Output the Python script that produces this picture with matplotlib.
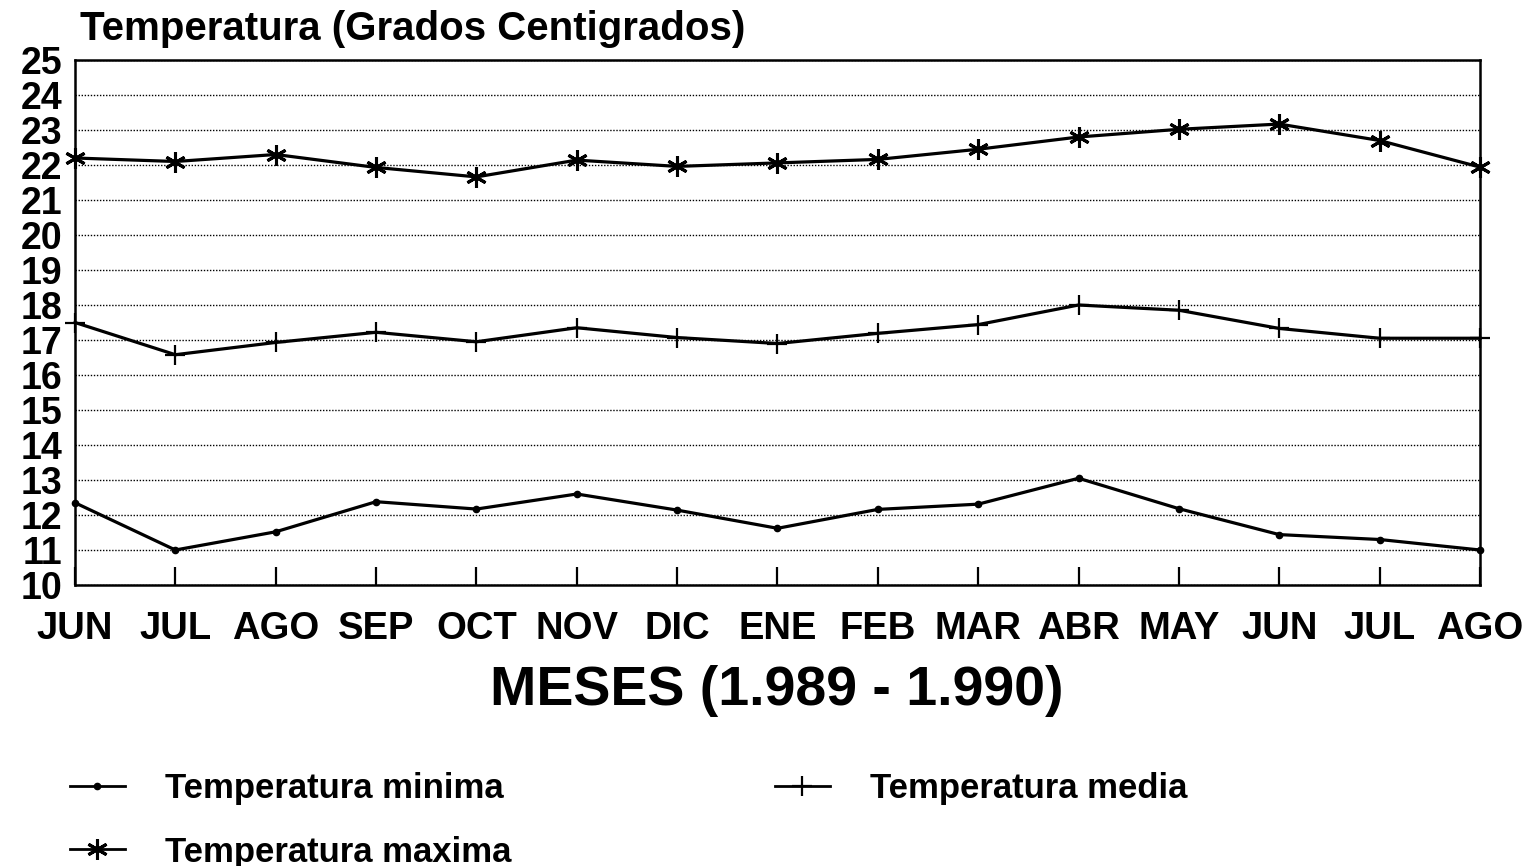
import matplotlib
matplotlib.use("Agg")
import matplotlib.pyplot as plt

months = ["JUN", "JUL", "AGO", "SEP", "OCT", "NOV", "DIC", "ENE",
          "FEB", "MAR", "ABR", "MAY", "JUN", "JUL", "AGO"]
t_min = [12.35, 11.0, 11.52, 12.38, 12.17, 12.6, 12.14, 11.62,
         12.16, 12.31, 13.05, 12.18, 11.44, 11.3, 11.0]
t_media = [17.5, 16.58, 16.93, 17.22, 16.95, 17.35, 17.07, 16.9,
           17.19, 17.44, 18.0, 17.85, 17.33, 17.05, 17.05]
t_max = [22.2, 22.1, 22.3, 21.93, 21.66, 22.14, 21.96, 22.06,
         22.16, 22.45, 22.8, 23.02, 23.17, 22.7, 21.94]
y_ticks = list(range(10, 26))

plt.rcParams['font.family'] = ['Liberation Sans', 'DejaVu Sans']

W, H = 1533, 866
fig = plt.figure(figsize=(W / 100, H / 100), dpi=100)
ax = fig.add_axes([75 / W, 1 - 585 / H, (1480 - 75) / W, (585 - 60) / H])

x = list(range(len(months)))
lw = 2.3
ax.plot(x, t_min, color='black', lw=lw, marker='o', ms=4.5, label='Temperatura minima',
        clip_on=False, zorder=3)
ax.plot(x, t_max, color='black', lw=lw, marker=(6, 2, 0), ms=15, mew=2.2,
        label='Temperatura maxima', clip_on=False, zorder=3)
ax.plot(x, t_media, color='black', lw=lw, marker='+', ms=14, mew=1.6,
        label='Temperatura media', clip_on=False, zorder=3)

ax.set_xlim(0, len(months) - 1)
ax.set_ylim(10, 25)
ax.set_yticks(y_ticks)
ax.set_yticklabels([str(v) for v in y_ticks], fontsize=27, fontweight='bold')
ax.set_xticks(x)
ax.set_xticklabels(months, fontsize=27.5, fontweight='bold')
ax.tick_params(axis='y', length=0, pad=9)
ax.tick_params(axis='x', direction='in', length=13, width=1.6, pad=19)
ax.yaxis.grid(True, linestyle=(0, (1, 1.2)), color='black', lw=1.0)
ax.set_axisbelow(True)
for s in ax.spines.values():
    s.set_linewidth(1.8)

fig.text(80 / W, 1 - 40 / H, "Temperatura (Grados Centigrados)", fontsize=29,
         fontweight='bold', ha='left', va='baseline')
fig.text(777 / W, 1 - 705 / H, "MESES (1.989 - 1.990)", fontsize=40,
         fontweight='bold', ha='center', va='baseline')

handles, labels = ax.get_legend_handles_labels()
leg = fig.legend(handles, labels,
                 loc='upper left', bbox_to_anchor=(70 / W, 1 - 772 / H),
                 ncol=2, frameon=False, prop={'weight': 'bold', 'size': 25},
                 handlelength=1.58, handletextpad=1.15, columnspacing=7.6,
                 labelspacing=0.88, borderaxespad=0, borderpad=0)
for lh in leg.legend_handles:
    lh.set_linewidth(2.0)

fig.savefig("out.png", dpi=100)
